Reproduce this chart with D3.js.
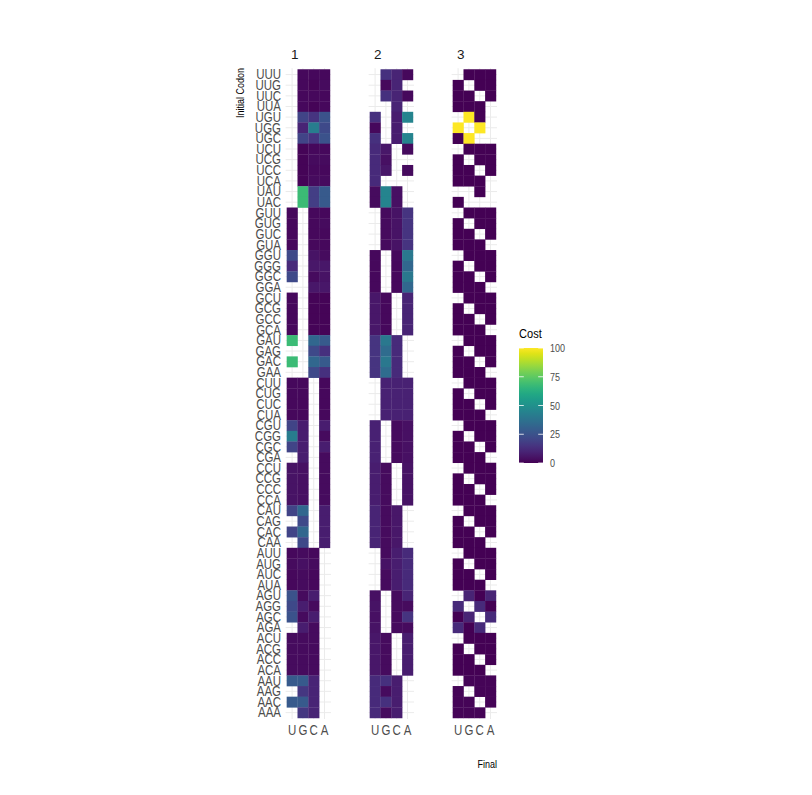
<!DOCTYPE html>
<html>
<head>
<meta charset="utf-8">
<script src="https://d3js.org/d3.v7.min.js"></script>
<style>
  body { margin: 0; background: #fff; }
  text { font-family: 'Liberation Sans', Arial, sans-serif; }
</style>
</head>
<body>
<script>
// codons (stop codons left out), top to bottom
const codons = [
  "UUU","UUG","UUC","UUA","UGU","UGG","UGC","UCU","UCG","UCC","UCA","UAU","UAC",
  "GUU","GUG","GUC","GUA","GGU","GGG","GGC","GGA","GCU","GCG","GCC","GCA","GAU","GAG","GAC","GAA",
  "CUU","CUG","CUC","CUA","CGU","CGG","CGC","CGA","CCU","CCG","CCC","CCA","CAU","CAG","CAC","CAA",
  "AUU","AUG","AUC","AUA","AGU","AGG","AGC","AGA","ACU","ACG","ACC","ACA","AAU","AAG","AAC","AAA"
];
const finals = ["U", "G", "C", "A"];
const positions = ["1", "2", "3"];
const legendTicks = [0, 25, 50, 75, 100];

// cost per codon, columns U G C A; null = no tile
const cost1 = [
  [null,2,2,2],[null,2,1,3],[null,2,2,2],[null,2,1,2],
  [null,20,15,25],[null,10,42,22],[null,20,15,25],
  [null,1,2,2],[null,1,3,3],[null,1,2,2],[null,1,3,3],
  [null,68,18,28],[null,68,18,28],
  [2,null,2,2],[2,null,2,3],[2,null,2,2],[2,null,2,2],
  [22,null,5,3],[12,null,6,6],[22,null,3,5],[null,null,6,6],
  [2,null,1,1],[2,null,1,1],[2,null,1,1],[2,null,1,1],
  [68,null,33,28],[null,null,22,14],[68,null,33,28],[null,null,22,14],
  [2,2,null,2],[2,2,null,2],[2,2,null,2],[2,2,null,2],
  [20,8,null,8],[42,8,null,3],[20,8,null,8],[null,8,null,3],
  [5,4,null,3],[5,4,null,3],[5,4,null,3],[5,4,null,3],
  [20,33,null,8],[null,22,null,8],[20,33,null,8],[null,22,null,8],
  [2,3,2,null],[3,4,3,null],[2,3,2,null],[2,3,2,null],
  [25,3,8,null],[22,8,3,null],[25,3,8,null],[null,8,3,null],
  [3,3,3,null],[3,3,3,null],[3,3,3,null],[3,3,3,null],
  [28,28,10,null],[null,16,10,null],[28,28,10,null],[null,16,10,null]
];
const cost2 = [
  [null,14,10,2],[null,2,10,null],[null,14,10,2],[null,null,10,null],
  [14,null,8,45],[2,null,8,null],[14,null,8,45],
  [12,6,null,3],[12,4,null,null],[12,6,null,3],[12,null,null,null],
  [3,45,4,null],[3,45,4,null],
  [null,3,5,15],[null,3,5,15],[null,3,5,15],[null,3,5,15],
  [2,null,2,40],[2,null,2,33],[2,null,2,40],[2,null,2,33],
  [6,2,null,10],[6,2,null,10],[6,2,null,10],[6,2,null,10],
  [15,40,12,null],[15,35,12,null],[15,40,12,null],[15,35,12,null],
  [null,9,9,9],[null,9,9,9],[null,9,9,9],[null,9,9,9],
  [9,null,3,4],[9,null,3,4],[9,null,3,4],[9,null,3,4],
  [8,3,null,5],[8,3,null,5],[8,3,null,5],[8,3,null,5],
  [10,3,6,null],[10,3,6,null],[10,3,6,null],[10,3,6,null],
  [null,3,8,12],[null,5,8,12],[null,3,8,12],[null,3,8,12],
  [4,null,3,10],[5,null,3,3],[4,null,3,15],[5,null,3,3],
  [6,3,null,8],[6,3,null,8],[6,3,null,8],[6,3,null,8],
  [12,14,8,null],[12,3,8,null],[12,14,8,null],[12,3,8,null]
];
const cost3 = [
  [null,0,0,0],[0,null,0,0],[0,0,null,0],[0,0,0,null],
  [null,100,0,null],[100,null,100,null],[0,100,null,null],
  [null,0,0,0],[0,null,0,0],[0,0,null,0],[0,0,0,null],
  [null,null,0,null],[0,null,null,null],
  [null,0,0,0],[0,null,0,0],[0,0,null,0],[0,0,0,null],
  [null,0,0,0],[0,null,0,0],[0,0,null,0],[0,0,0,null],
  [null,0,0,0],[0,null,0,0],[0,0,null,0],[0,0,0,null],
  [null,0,0,0],[0,null,0,0],[0,0,null,0],[0,0,0,null],
  [null,0,0,0],[0,null,0,0],[0,0,null,0],[0,0,0,null],
  [null,0,0,0],[0,null,0,0],[0,0,null,0],[0,0,0,null],
  [null,0,0,0],[0,null,0,0],[0,0,null,0],[0,0,0,null],
  [null,0,0,0],[0,null,0,0],[0,0,null,0],[0,0,0,null],
  [null,0,0,0],[0,null,0,0],[0,0,null,0],[0,0,0,null],
  [null,10,0,10],[12,null,12,0],[0,10,null,12],[12,0,12,null],
  [null,0,0,0],[0,null,0,0],[0,0,null,0],[0,0,0,null],
  [null,1,1,1],[1,null,1,1],[1,1,null,1],[1,1,1,null]
];
const costs = [cost1, cost2, cost3];

const W = 812, H = 795;
const svg = d3.select("body").append("svg").attr("width", W).attr("height", H);

const panelTop = 68.2, panelBottom = 719;
const panelLeft = 285.6, panelW = 45.4, facetStep = 83;
const narrow = 0.82;

const y = d3.scaleBand().domain(codons).range([panelTop, panelBottom])
  .paddingInner(0).paddingOuter(0.1);
const color = d3.scaleSequential(d3.interpolateViridis).domain([0, 100]);

positions.forEach((p, i) => {
  const x0 = panelLeft + i * facetStep;
  const x = d3.scaleBand().domain(finals).range([x0, x0 + panelW])
    .paddingInner(0).paddingOuter(0.1);
  const g = svg.append("g");

  // grid
  g.selectAll(".hg").data(codons).join("line")
    .attr("x1", x0).attr("x2", x0 + panelW)
    .attr("y1", d => y(d) + y.bandwidth() / 2).attr("y2", d => y(d) + y.bandwidth() / 2)
    .attr("stroke", "#ebebeb").attr("stroke-width", 1);
  g.selectAll(".vg").data(finals).join("line")
    .attr("x1", d => x(d) + x.bandwidth() / 2).attr("x2", d => x(d) + x.bandwidth() / 2)
    .attr("y1", panelTop).attr("y2", panelBottom)
    .attr("stroke", "#ebebeb").attr("stroke-width", 1);

  // tiles
  const cells = [];
  codons.forEach((c, r) => finals.forEach((f, k) => {
    const v = costs[i][r][k];
    if (v !== null) cells.push({ c, f, v });
  }));
  g.selectAll("rect").data(cells).join("rect")
    .attr("x", d => x(d.f)).attr("y", d => y(d.c))
    .attr("width", x.bandwidth() + 0.3).attr("height", y.bandwidth() + 0.3)
    .attr("fill", d => color(d.v));

  // strip label
  svg.append("text").attr("x", x0 + 5.5).attr("y", 59)
    .attr("font-size", 13.5).attr("fill", "#1a1a1a").text(p);

  // x axis labels
  finals.forEach(f => {
    svg.append("text")
      .attr("transform", `translate(${x(f) + x.bandwidth() / 2},${735}) scale(${narrow},1)`)
      .attr("text-anchor", "middle").attr("font-size", 14).attr("fill", "#4d4d4d").text(f);
  });
});

// y axis labels
codons.forEach(c => {
  svg.append("text")
    .attr("transform", `translate(281,${y(c) + y.bandwidth() / 2 + 4.8}) scale(${narrow},1)`)
    .attr("text-anchor", "end").attr("font-size", 14).attr("fill", "#4d4d4d").text(c);
});

// axis titles
svg.append("text")
  .attr("transform", `translate(244,68) rotate(-90) scale(${narrow},1)`)
  .attr("text-anchor", "end").attr("font-size", 11).attr("fill", "#000").text("Initial Codon");
svg.append("text")
  .attr("transform", `translate(497,768) scale(${narrow},1)`)
  .attr("text-anchor", "end").attr("font-size", 11).attr("fill", "#000").text("Final");

// legend
const lg = svg.append("g");
const barX = 519, barW = 24, barTop = 348, barBottom = 463;
const ly = d3.scaleLinear().domain([0, 100]).range([barBottom, barTop]);
const defs = svg.append("defs");
const grad = defs.append("linearGradient").attr("id", "vir")
  .attr("x1", 0).attr("y1", 1).attr("x2", 0).attr("y2", 0);
d3.range(0, 1.0001, 0.05).forEach(t => {
  grad.append("stop").attr("offset", t).attr("stop-color", d3.interpolateViridis(t));
});
lg.append("rect").attr("x", barX).attr("y", barTop).attr("width", barW)
  .attr("height", barBottom - barTop).attr("fill", "url(#vir)");
legendTicks.forEach(t => {
  lg.append("line").attr("x1", barX).attr("x2", barX + 4.8)
    .attr("y1", ly(t)).attr("y2", ly(t)).attr("stroke", "#fff").attr("stroke-width", 0.8);
  lg.append("line").attr("x1", barX + barW - 4.8).attr("x2", barX + barW)
    .attr("y1", ly(t)).attr("y2", ly(t)).attr("stroke", "#fff").attr("stroke-width", 0.8);
  lg.append("text")
    .attr("transform", `translate(550,${ly(t) + 4}) scale(${narrow},1)`)
    .attr("font-size", 11).attr("fill", "#4d4d4d").text(t);
});
lg.append("text")
  .attr("transform", `translate(519,338) scale(${narrow},1)`)
  .attr("font-size", 13.5).attr("fill", "#000").text("Cost");
</script>
</body>
</html>
